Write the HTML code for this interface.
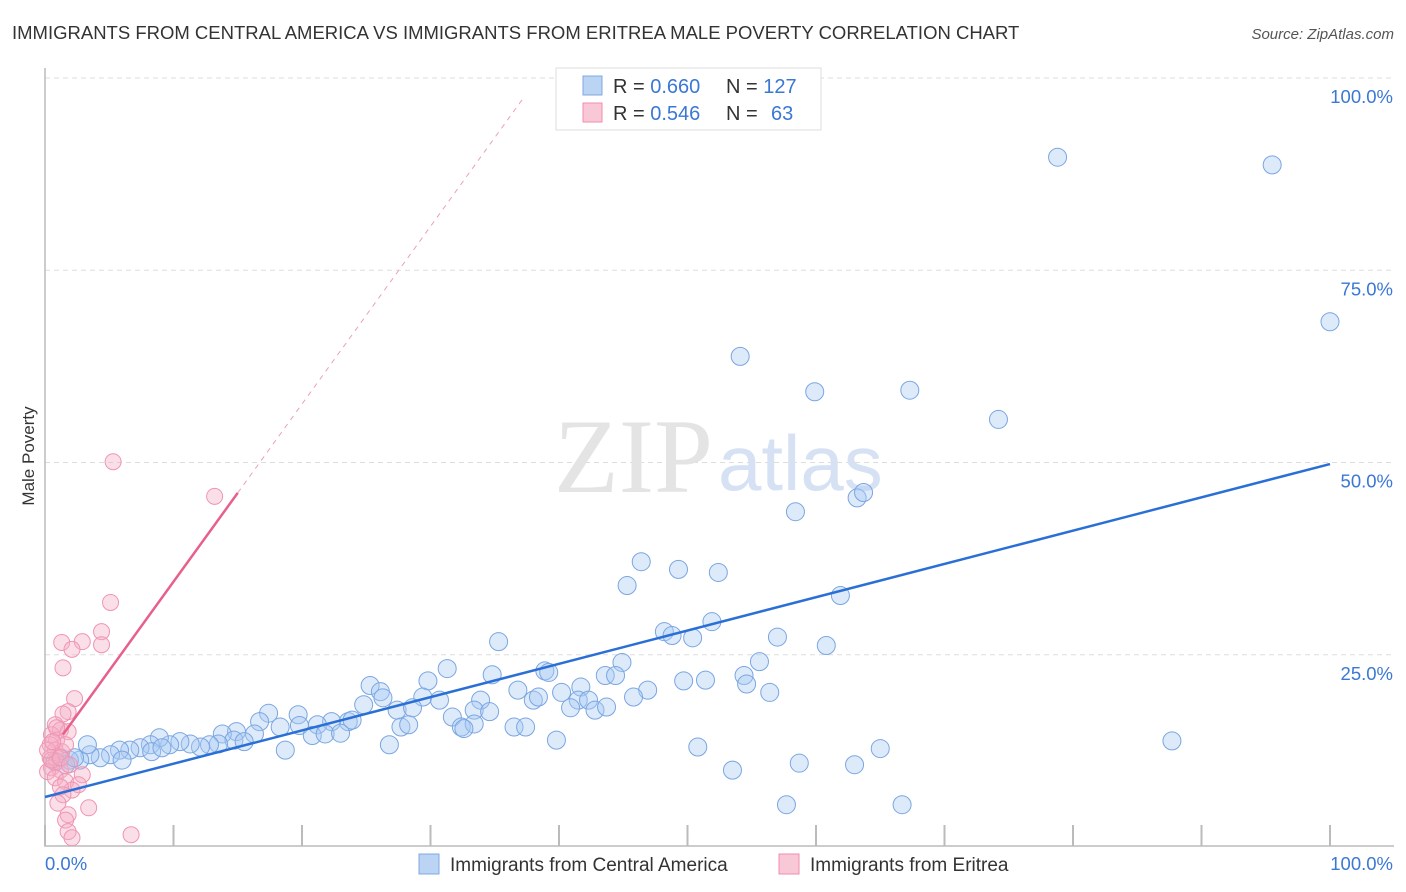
<!DOCTYPE html>
<html><head><meta charset="utf-8"><style>
body{margin:0;background:#fff;font-family:"Liberation Sans",sans-serif;}
svg{display:block}
</style></head><body>
<svg id="chart" width="1406" height="892">
<text x="12" y="39" font-size="18.5" fill="#333">IMMIGRANTS FROM CENTRAL AMERICA VS IMMIGRANTS FROM ERITREA MALE POVERTY CORRELATION CHART</text>
<text x="1394" y="39" font-size="15" fill="#555" font-style="italic" text-anchor="end">Source: ZipAtlas.com</text>
<text transform="translate(34,456) rotate(-90)" font-size="17" fill="#333" text-anchor="middle">Male Poverty</text>
<g id="grid"></g>
<text x="554" y="492" font-size="106" fill="#e4e4e4" font-family="Liberation Serif,serif">ZIP</text>
<text x="718" y="490" font-size="78" fill="#d6e2f3">atlas</text>
<g id="marks"></g>
<g>
<rect x="556" y="68" width="265" height="62" fill="#fff" stroke="#ddd"/>
<rect x="583" y="76" width="19" height="19" fill="#bcd4f4" stroke="#7fa9e0"/>
<rect x="583" y="103" width="19" height="19" fill="#f9c8d6" stroke="#f08cad"/>
<text x="613" y="93" font-size="20" fill="#333">R = <tspan fill="#3a78d4">0.660</tspan></text>
<text x="726" y="93" font-size="20" fill="#333">N = <tspan fill="#3a78d4">127</tspan></text>
<text x="613" y="120" font-size="20" fill="#333">R = <tspan fill="#3a78d4">0.546</tspan></text>
<text x="726" y="120" font-size="20" fill="#333">N = <tspan x="771" fill="#3a78d4">63</tspan></text>
</g>
<g>
<rect x="419" y="854" width="20" height="20" fill="#bcd4f4" stroke="#7fa9e0"/>
<text x="450" y="871" font-size="19" fill="#333">Immigrants from Central America</text>
<rect x="779" y="854" width="20" height="20" fill="#f9c8d6" stroke="#f08cad"/>
<text x="810" y="871" font-size="19" fill="#333">Immigrants from Eritrea</text>
</g>
</svg>
<script>
const blueX=[78.8,95.5,100,54.1,59.9,67.3,74.2,58.4,63.2,63.7,46.4,49.3,52.4,45.3,61.9,35.3,48.2,48.8,50.4,51.9,57.0,60.8,31.3,34.8,38.9,39.2,44.9,43.6,44.4,55.6,54.4,49.7,51.4,54.6,56.4,46.9,45.8,41.7,40.2,41.5,42.3,38.0,38.4,36.8,33.9,33.4,34.6,40.9,42.8,43.7,25.3,26.1,29.8,29.4,30.7,26.3,24.8,27.4,28.6,31.7,32.4,33.4,36.5,37.4,32.6,27.7,28.3,23.6,23.9,22.3,21.2,19.7,19.8,17.4,16.7,18.3,20.8,21.8,23.0,18.7,16.3,14.9,13.8,14.7,15.5,13.5,12.8,12.1,11.3,10.5,9.7,8.9,8.2,7.4,6.6,5.8,5.1,4.3,3.5,2.7,1.9,1.2,0.8,1.6,2.3,3.3,26.8,39.8,50.8,53.5,58.7,63.0,65.0,57.7,66.7,87.7,8.3,6.0,9.1];
const blueY=[89.7,88.7,68.3,63.8,59.2,59.4,55.6,43.6,45.4,46.1,37.1,36.1,35.7,34.0,32.7,26.7,28.0,27.5,27.2,29.3,27.3,26.2,23.2,22.4,22.9,22.7,24.0,22.3,22.3,24.1,22.3,21.6,21.7,21.2,20.1,20.4,19.5,20.8,20.1,19.1,19.1,19.1,19.5,20.4,19.1,17.8,17.6,18.1,17.8,18.2,21.0,20.2,21.6,19.5,19.1,19.4,18.5,17.8,18.1,16.9,15.6,16.0,15.6,15.6,15.4,15.6,15.9,16.3,16.5,16.3,15.9,17.2,15.8,17.4,16.3,15.6,14.5,14.7,14.8,12.6,14.7,15.0,14.7,13.9,13.7,13.4,13.3,13.0,13.4,13.7,13.3,14.2,13.3,12.9,12.6,12.6,12.0,11.6,12.0,11.3,11.3,11.6,11.1,10.7,11.6,13.3,13.3,13.9,13.0,10.0,10.9,10.7,12.8,5.5,5.5,13.8,12.4,11.3,12.9];
const pinkX=[5.3,13.2,5.1,4.4,4.4,2.9,1.3,2.1,1.4,2.3,1.8,1.4,0.8,1.2,1.8,0.5,0.9,0.4,0.8,1.3,0.4,0.9,0.5,1.2,0.2,0.8,1.6,2.9,2.6,2.1,1.2,1.4,1.0,3.4,1.8,1.6,1.8,2.1,6.7,0.5,1.6,0.9,0.2,0.6,1.2,1.9];
const pinkY=[50.1,45.6,31.8,28.0,26.3,26.7,26.6,25.7,23.3,19.3,17.6,17.3,15.9,15.2,15.0,14.6,13.9,13.3,12.6,12.4,11.6,11.1,10.3,10.0,9.8,9.0,8.5,9.4,8.1,7.4,7.8,6.8,5.7,5.1,4.2,3.5,2.0,1.2,1.6,11.3,13.3,15.5,12.6,13.7,11.6,10.7];
const blueLine=[6.5,49.8];
const pinkLine=[11.4,2.31];
const yTicks=[25,50,75,100];
const yTickLabels=["25.0%","50.0%","75.0%","100.0%"];
const NS="http://www.w3.org/2000/svg";
const sx=v=>45+v*12.85, sy=v=>847-v*7.69;
function mk(t,a,p){const e=document.createElementNS(NS,t);for(const k in a)e.setAttribute(k,a[k]);(p||document.getElementById('marks')).appendChild(e);return e;}
const g=document.getElementById('grid');
yTicks.forEach((t,i)=>{
 const l=mk('line',{x1:45,x2:1394,y1:sy(t),y2:sy(t),stroke:'#ddd','stroke-dasharray':'5,4'},g);
 
 
 const tx=mk('text',{x:1393,y:sy(t)+25,'font-size':18.5,fill:'#3a78d4','text-anchor':'end'},g);
 tx.textContent=yTickLabels[i];
 
 
});
for(let i=0;i<=10;i++){
 const l=mk('line',{x1:sx(i*10),x2:sx(i*10),y1:825,y2:846,stroke:'#bbb','stroke-width':2},g);
 
 
}
const ax=mk('path',{d:'M45,68 V846 H1394',fill:'none',stroke:'#bbb','stroke-width':1.5},g);


const x0=mk('text',{x:45,y:870,'font-size':18.5,fill:'#3a78d4'},g);x0.textContent='0.0%';


const x1=mk('text',{x:1393,y:870,'font-size':18.5,fill:'#3a78d4','text-anchor':'end'},g);x1.textContent='100.0%';


blueX.forEach((x,i)=>{
 const c=mk('circle',{cx:sx(x),cy:sy(blueY[i]),r:9,fill:'rgba(170,202,242,0.4)',stroke:'#7aa6e2','stroke-width':1});
 
 
});
pinkX.forEach((x,i)=>{
 const c=mk('circle',{cx:sx(x),cy:sy(pinkY[i]),r:8,fill:'rgba(245,175,198,0.4)',stroke:'#f094b2','stroke-width':1});
 
 
});
const bl=mk('line',{x1:sx(0),y1:sy(blueLine[0]),x2:sx(100),y2:sy(blueLine[1]),stroke:'#2a6fd6','stroke-width':2.5});


const pf=x=>pinkLine[0]+pinkLine[1]*x;
const pl=mk('line',{x1:sx(1.4),y1:sy(pf(1.4)),x2:sx(15),y2:sy(pf(15)),stroke:'#e8608a','stroke-width':2.5});


const pd=mk('line',{x1:sx(15),y1:sy(pf(15)),x2:sx(37.3),y2:sy(pf(37.3)),stroke:'#eba0b8','stroke-width':1,'stroke-dasharray':'5,5'});


</script>
</body></html>
